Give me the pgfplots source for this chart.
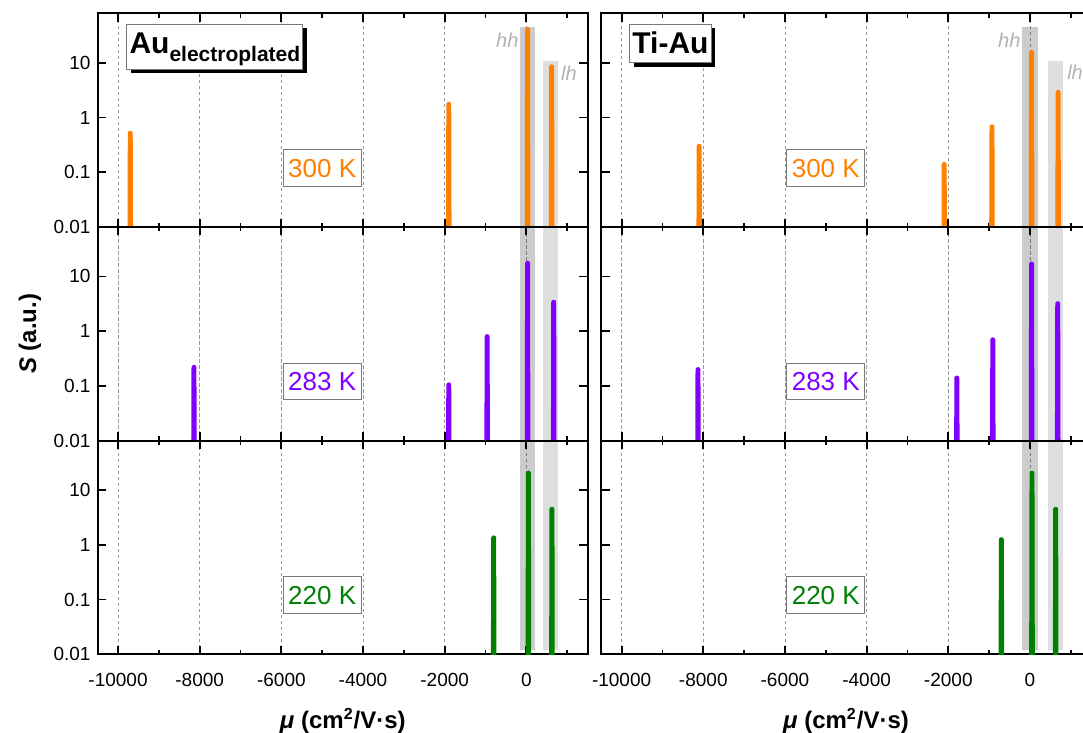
\documentclass[border=0pt]{standalone}
\usepackage{fontspec}
\setmainfont{Liberation Sans}
\usepackage{pgfplots}
\pgfplotsset{compat=1.18}

\definecolor{c300}{RGB}{255,128,0}
\definecolor{c283}{RGB}{128,0,255}
\definecolor{c220}{RGB}{0,128,0}
\definecolor{boxgray}{RGB}{120,120,120}
\definecolor{bandlbl}{RGB}{178,178,178}

\tikzset{
  mypk/.style={line width=2.3pt, line join=round, line cap=round},
  myhh/.style={draw=none, fill=black, fill opacity=0.2},
  mylh/.style={draw=none, fill=black, fill opacity=0.13},
  tlabel/.style={draw=boxgray, line width=0.5pt, fill=white,
    font=\fontsize{13}{15}\selectfont, inner xsep=2.5pt, inner ysep=4.5pt,
    text height=9.4pt, text depth=0pt},
  ttl/.style={draw=boxgray, line width=0.5pt, fill=white, anchor=north west,
    font=\fontsize{15}{17}\selectfont\bfseries},
  ttlsh/.style={draw=none, fill=black, anchor=north west,
    font=\fontsize{15}{17}\selectfont\bfseries, xshift=2pt, yshift=-2pt},
  bandtxt/.style={text=bandlbl, font=\fontsize{10}{12}\selectfont\itshape, inner sep=0.5pt},
}
% one panel: #1 = position, #2 = y tick labels, #3 = x tick labels
\newcommand{\panel}[3]{%
\begin{axis}[
    scale only axis, width=245pt, height=106.83pt,
    anchor=south west, at={#1},
    xmin=-10500, xmax=1500,
    ymode=log, ymin=0.01, ymax=80,
    xtick={-10000,-8000,-6000,-4000,-2000,0},
    minor xtick={-9000,-7000,-5000,-3000,-1000,1000},
    scaled x ticks=false,
    ytick={0.01,0.1,1,10}, yminorticks=false,
    xticklabels={#3}, yticklabels={#2},
    xmajorgrids=true,
    major grid style={dash pattern=on 1.6pt off 1.4pt, black!40, line width=0.3pt},
    tick align=inside,
    major tick length=4.2pt, minor tick length=2.2pt,
    axis line style={line width=0.9pt},
    tick style={line width=0.9pt, black},
    tick label style={font=\fontsize{9.5}{11}\selectfont},
    xticklabel style={yshift=-6pt},
  ]}

\begin{document}
\begin{tikzpicture}
\useasboundingbox (0,0) rectangle (541.5pt,366.5pt);

% ---------- left column: Au electroplated ----------
\panel{(48.8pt,253pt)}{0.01,0.1,1,10}{}
\addplot[myhh] coordinates {(-150,0.001) (210,0.001) (210,45) (-150,45)};
\addplot[mylh] coordinates {(410,0.001) (785,0.001) (785,11) (410,11)};
\addplot[mypk, c300] coordinates {(-9715,0.001) (-9704,0.52) (-9696,0.52) (-9685,0.001)};
\addplot[mypk, c300] coordinates {(-1915,0.001) (-1904,1.75) (-1896,1.75) (-1885,0.001)};
\addplot[mypk, c300] coordinates {(15,0.001) (26,41) (34,41) (45,0.001)};
\addplot[mypk, c300] coordinates {(605,0.001) (616,8.5) (624,8.5) (635,0.001)};
\node[tlabel, text=c300] at (axis cs:-5000,0.12) {300 K};
\node[ttlsh, inner xsep=1.3pt, inner ysep=1.5pt, text height=13pt, text depth=6.5pt]
  at (axis cs:-9794,51.4) {\phantom{Au\raisebox{-4pt}{\fontsize{10.5}{12}\selectfont electroplated}}};
\node[ttl, inner xsep=1.3pt, inner ysep=1.5pt, text height=13pt, text depth=6.5pt]
  at (axis cs:-9794,51.4) {Au\raisebox{-4pt}{\fontsize{10.5}{12}\selectfont electroplated}};
\node[bandtxt, anchor=east] at (axis cs:-160,26) {hh};
\node[bandtxt, anchor=west] at (axis cs:820,6.5) {lh};
\end{axis}

\panel{(48.8pt,146.17pt)}{0.01,0.1,1,10}{}
\addplot[myhh] coordinates {(-150,0.001) (210,0.001) (210,1000) (-150,1000)};
\addplot[mylh] coordinates {(410,0.001) (785,0.001) (785,1000) (410,1000)};
\addplot[mypk, c283] coordinates {(-8155,0.001) (-8144,0.22) (-8136,0.22) (-8125,0.001)};
\addplot[mypk, c283] coordinates {(-1915,0.001) (-1904,0.105) (-1896,0.105) (-1885,0.001)};
\addplot[mypk, c283] coordinates {(-975,0.001) (-964,0.8) (-956,0.8) (-945,0.001)};
\addplot[mypk, c283] coordinates {(15,0.001) (26,17.5) (34,17.5) (45,0.001)};
\addplot[mypk, c283] coordinates {(655,0.001) (666,3.4) (674,3.4) (685,0.001)};
\node[tlabel, text=c283] at (axis cs:-5000,0.12) {283 K};
\end{axis}

\panel{(48.8pt,39.34pt)}{0.01,0.1,1,10}{-10000,-8000,-6000,-4000,-2000,0}
\addplot[myhh] coordinates {(-150,0.012) (210,0.012) (210,1000) (-150,1000)};
\addplot[mylh] coordinates {(410,0.012) (785,0.012) (785,1000) (410,1000)};
\addplot[mypk, c220] coordinates {(-815,0.001) (-804,1.35) (-796,1.35) (-785,0.001)};
\addplot[mypk, c220] coordinates {(35,0.001) (46,20.5) (54,20.5) (65,0.001)};
\addplot[mypk, c220] coordinates {(612,0.001) (623,4.5) (631,4.5) (642,0.001)};
\node[tlabel, text=c220] at (axis cs:-5000,0.12) {220 K};
\end{axis}

% ---------- right column: Ti-Au ----------
\panel{(300.6pt,253pt)}{}{}
\addplot[myhh] coordinates {(-190,0.001) (190,0.001) (190,45) (-190,45)};
\addplot[mylh] coordinates {(450,0.001) (815,0.001) (815,10.8) (450,10.8)};
\addplot[mypk, c300] coordinates {(-8115,0.001) (-8104,0.30) (-8096,0.30) (-8085,0.001)};
\addplot[mypk, c300] coordinates {(-2115,0.001) (-2104,0.14) (-2096,0.14) (-2085,0.001)};
\addplot[mypk, c300] coordinates {(-945,0.001) (-934,0.68) (-926,0.68) (-915,0.001)};
\addplot[mypk, c300] coordinates {(25,0.001) (36,15.5) (44,15.5) (55,0.001)};
\addplot[mypk, c300] coordinates {(675,0.001) (686,2.9) (694,2.9) (705,0.001)};
\node[tlabel, text=c300] at (axis cs:-5000,0.12) {300 K};
\node[ttlsh, inner xsep=1.3pt, inner ysep=2.1pt, text height=12.3pt, text depth=2.65pt]
  at (axis cs:-9811,51.4) {\phantom{Ti-Au}};
\node[ttl, inner xsep=1.3pt, inner ysep=2.1pt, text height=12.3pt, text depth=2.65pt]
  at (axis cs:-9811,51.4) {Ti-Au};
\node[bandtxt, anchor=east] at (axis cs:-200,26) {hh};
\node[bandtxt, anchor=west] at (axis cs:880,6.8) {lh};
\end{axis}

\panel{(300.6pt,146.17pt)}{}{}
\addplot[myhh] coordinates {(-190,0.001) (190,0.001) (190,1000) (-190,1000)};
\addplot[mylh] coordinates {(450,0.001) (815,0.001) (815,1000) (450,1000)};
\addplot[mypk, c283] coordinates {(-8145,0.001) (-8134,0.20) (-8126,0.20) (-8115,0.001)};
\addplot[mypk, c283] coordinates {(-1805,0.001) (-1794,0.14) (-1786,0.14) (-1775,0.001)};
\addplot[mypk, c283] coordinates {(-925,0.001) (-914,0.70) (-906,0.70) (-895,0.001)};
\addplot[mypk, c283] coordinates {(25,0.001) (36,17) (44,17) (55,0.001)};
\addplot[mypk, c283] coordinates {(665,0.001) (676,3.2) (684,3.2) (695,0.001)};
\node[tlabel, text=c283] at (axis cs:-5000,0.12) {283 K};
\end{axis}

\panel{(300.6pt,39.34pt)}{}{-10000,-8000,-6000,-4000,-2000,0}
\addplot[myhh] coordinates {(-190,0.012) (190,0.012) (190,1000) (-190,1000)};
\addplot[mylh] coordinates {(450,0.012) (815,0.012) (815,1000) (450,1000)};
\addplot[mypk, c220] coordinates {(-715,0.001) (-704,1.25) (-696,1.25) (-685,0.001)};
\addplot[mypk, c220] coordinates {(35,0.001) (46,20.5) (54,20.5) (65,0.001)};
\addplot[mypk, c220] coordinates {(615,0.001) (626,4.5) (634,4.5) (645,0.001)};
\node[tlabel, text=c220] at (axis cs:-5000,0.12) {220 K};
\end{axis}

% axis titles
\node[rotate=90, font=\fontsize{12}{14}\selectfont\bfseries] at (15pt,199.5pt)
  {\itshape S\upshape{} (a.u.)};
\node[font=\fontsize{12}{14}\selectfont\bfseries] at (171.4pt,6.2pt)
  {\itshape μ\upshape{} (cm\textsuperscript{2}/V·s)};
\node[font=\fontsize{12}{14}\selectfont\bfseries] at (423pt,6.2pt)
  {\itshape μ\upshape{} (cm\textsuperscript{2}/V·s)};
\end{tikzpicture}
\end{document}
